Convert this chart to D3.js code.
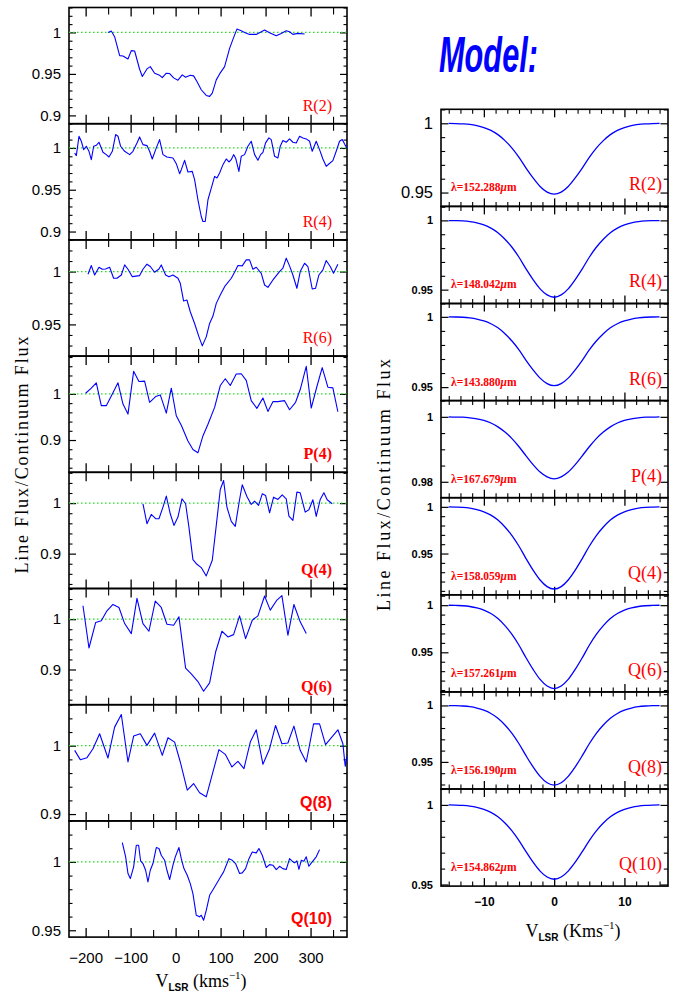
<!DOCTYPE html>
<html><head><meta charset="utf-8">
<script src="https://cdn.jsdelivr.net/npm/d3@7"></script>
<style>body{margin:0;background:#fff}svg{display:block}</style>
</head><body>
<svg id="chart" width="680" height="995"></svg>
<script>
// ---------------- DATA ----------------
// Observed spectra: [V_LSR (km/s), line flux / continuum flux]
const obsR2 = [[-150.4,1.0],[-143,1.0016],[-135.6,0.9948],[-124.4,0.972],[-117,0.9716],[-105.9,0.968],[-98.5,0.978],[-91.1,0.9776],[-80,0.9556],[-74,0.9468],[-63.7,0.956],[-56.3,0.9588],[-46.7,0.9508],[-37,0.9488],[-29.6,0.9456],[-20.7,0.9508],[-13.3,0.9504],[-4.4,0.9452],[5.2,0.9424],[14.8,0.9488],[22.2,0.946],[32.6,0.9484],[40,0.9476],[47.4,0.9408],[57,0.9309],[68.1,0.924],[75.6,0.9229],[81.5,0.9269],[90.4,0.9428],[97.8,0.95],[108.9,0.9588],[120,0.9808],[127.4,0.9916],[136.3,1.004],[145.9,1.002],[153.3,1.0],[164.4,0.9976],[179.3,0.9976],[197.8,1.0028],[208.9,0.9996],[223.7,0.996],[234.8,0.9988],[245.9,1.002],[253.3,1.0008],[260.7,0.9976],[271.9,0.9988],[286.7,0.998]];
const obsR4 = [[-224.4,0.994],[-220.7,0.9908],[-214.8,1.014],[-209.6,1.008],[-204.4,0.998],[-198.5,1.002],[-192.6,0.996],[-187.4,0.986],[-182.2,1.002],[-176.3,1.0032],[-170.4,1.0068],[-165.2,1.0],[-161.5,0.9948],[-154.1,0.992],[-148.1,0.9892],[-140.7,0.996],[-133.3,1.016],[-128.1,1.014],[-122.2,1.002],[-113.3,0.996],[-102.2,0.992],[-94.8,0.996],[-85.9,1.006],[-80,1.0132],[-72.6,1.004],[-63.7,1.0028],[-57.8,0.996],[-51.9,0.9868],[-44.4,0.998],[-35.6,1.01],[-28.1,0.992],[-19.3,0.9892],[-5.9,0.988],[1.5,0.9812],[8.9,0.9692],[12.6,0.974],[20,0.9852],[27.4,0.9712],[37,0.972],[42.2,0.962],[49.6,0.938],[57,0.918],[60.7,0.912],[65.9,0.912],[71.9,0.938],[79.3,0.952],[86.7,0.966],[91.9,0.964],[97.8,0.97],[105.2,0.98],[112.6,0.9868],[118.5,0.9832],[123.7,0.986],[128.9,0.992],[133.3,0.988],[140.7,0.972],[145.9,0.99],[153.3,0.992],[160.7,1.002],[168.1,1.008],[175.6,0.992],[183,0.9852],[188.9,0.992],[194.1,0.9948],[200,1.006],[207.4,1.012],[212.6,1.01],[220,0.99],[227.4,0.988],[232.6,1.002],[238.5,1.0088],[245.9,1.0068],[253.3,1.0108],[260.7,1.0068],[268.1,1.006],[275.6,1.014],[283,1.012],[290.4,1.0108],[297.8,1.008],[303.7,0.996],[312.6,1.008],[320,0.998],[327.4,0.9868],[334.8,0.978],[340.7,0.9808],[349.6,0.9848],[357,0.996],[364.4,1.008],[370.4,1.01],[376.3,1.004],[380.7,1.0]];
const obsR6 = [[-194.8,0.9975],[-187.4,1.0057],[-180,0.9968],[-170.4,1.0041],[-163,1.0022],[-155.6,1.0025],[-146.7,1.0041],[-137.8,0.9937],[-130.4,0.9937],[-120.7,0.9968],[-113.3,1.0063],[-105.9,1.0022],[-96.3,0.9952],[-80,0.9962],[-72.6,1.0022],[-63.7,1.007],[-56.3,1.0048],[-46.7,0.9994],[-37,1.0025],[-31.9,1.0063],[-22.2,0.9968],[-14.8,0.9952],[-5.9,0.9968],[5.2,0.9937],[10.4,0.9889],[17.8,0.9721],[25.2,0.9731],[32.6,0.962],[42.2,0.9509],[51.9,0.9382],[59.3,0.9297],[68.1,0.9382],[75.6,0.9509],[83,0.9579],[90.4,0.9699],[99.3,0.9778],[108.9,0.9857],[123.7,0.9937],[131.1,0.9994],[138.5,1.0057],[148.1,1.0054],[157,1.0111],[164.4,1.0111],[171.9,1.0022],[179.3,1.0041],[190.4,0.9984],[197.8,0.9873],[205.2,0.9851],[216.3,0.9921],[231.1,1.0],[238.5,1.0032],[245.9,1.0127],[253.3,1.0054],[260.7,0.9968],[269.6,0.9842],[277,1.0],[286.7,1.0079],[294.1,1.0048],[303.7,0.9835],[311.1,0.9842],[318.5,0.9968],[327.4,1.0016],[334.8,1.0105],[343.7,1.0048],[351.1,0.9984],[360.7,1.007]];
const obsP4 = [[-200,1.0015],[-187.4,1.0124],[-176.3,1.0241],[-165.2,0.9745],[-154.1,0.9745],[-140.7,1.0],[-128.1,1.0241],[-117,0.9781],[-105.9,0.9562],[-93.3,1.0489],[-81.5,1.027],[-68.9,1.0277],[-57.8,0.9818],[-44.4,0.9942],[-34.1,0.9978],[-20.7,0.9584],[-9.6,1.0124],[1.5,0.9526],[12.6,0.9321],[27.4,0.8978],[38.5,0.8796],[49.6,0.8723],[60.7,0.9088],[71.9,0.9343],[86.7,0.9708],[99.3,1.0182],[110.4,1.0328],[121.5,1.0182],[134.8,1.0431],[145.9,1.0438],[157,1.0292],[168.1,0.9854],[180.7,0.9686],[194.1,0.9912],[205.2,0.962],[216.3,0.9832],[227.4,0.9832],[242.2,0.9854],[253.3,0.9657],[266.7,0.9818],[277,1.0095],[290.4,1.0599],[301.5,0.9693],[314.1,1.0161],[325.9,1.0569],[338.5,1.0146],[349.6,1.0131],[360.7,0.9613]];
const obsQ4 = [[-72.6,0.9987],[-63.7,0.9592],[-54.1,0.9776],[-44.4,0.9691],[-37,0.9691],[-28.1,0.9921],[-20.7,1.0138],[-11.9,0.9789],[-3.7,0.9559],[5.2,0.9724],[14.1,1.0086],[22.2,0.9987],[29.6,0.9526],[38.5,0.8882],[47.4,0.8789],[57,0.8724],[68.1,0.8559],[81.5,0.8868],[90.4,0.9559],[99.3,1.027],[106.7,1.0447],[114.1,0.9921],[123.7,0.9638],[132.6,0.9539],[142.2,1.0072],[148.1,1.0362],[158.5,1.0132],[168.1,0.9974],[175.6,1.0039],[184.4,0.9954],[192.6,1.0184],[200,1.0151],[208.9,0.9809],[217.8,1.0118],[227.4,1.0072],[237,1.0164],[245.9,1.0086],[251.9,0.9743],[260.7,0.9658],[269.6,1.0217],[277,1.0204],[288.1,0.9822],[296.3,0.9868],[305.2,1.0066],[312.6,0.9737],[321.5,1.0072],[329.6,1.0204],[337,1.0066],[348.1,0.9987]];
const obsQ6 = [[-205.9,1.0267],[-192.6,0.9427],[-177.8,0.9933],[-165.2,0.9967],[-152.6,1.0167],[-139.3,1.0293],[-125.9,1.0233],[-113.3,0.9913],[-98.5,0.9713],[-85.9,1.0413],[-72.6,0.9913],[-59.3,0.976],[-45.2,1.036],[-31.9,1.0233],[-19.3,0.99],[-4.4,0.988],[7.4,1.0047],[22.2,0.9027],[34.8,0.8913],[49.6,0.876],[62.2,0.8567],[75.6,0.8733],[88.9,0.9347],[103,0.976],[116.3,0.9647],[128.9,0.9693],[142.2,1.0067],[155.6,0.9613],[170.4,0.998],[183,1.0067],[197.8,1.046],[210.4,1.018],[225.2,1.038],[236.3,1.0467],[249.6,0.968],[263,1.0293],[277,0.9947],[290.4,0.9713]];
const obsQ8 = [[-224.4,0.9932],[-211.9,0.9796],[-197,0.9825],[-183.7,0.9956],[-168.9,1.0175],[-150.4,0.982],[-135.6,1.0272],[-120.7,1.0456],[-105.9,0.9762],[-93.3,1.0141],[-78.5,1.0175],[-63.7,1.0005],[-46.7,1.0184],[-29.6,0.9859],[-17,1.0117],[-2.2,1.0053],[10.4,0.9762],[25.9,0.935],[40,0.9447],[53.3,0.9311],[68.1,0.9252],[83,0.9617],[96.3,0.9942],[110.4,0.9874],[125.2,0.9689],[138.5,0.9772],[151.9,0.9665],[166,1.0053],[179.3,1.0233],[194.1,0.9728],[208.9,0.9956],[222.2,1.0296],[236.3,1.0029],[249.6,1.0039],[263,1.0286],[277,0.9932],[290.4,0.9762],[306.7,1.032],[320,1.032],[333.3,1.0015],[360.7,1.0233],[371.9,1.0029],[377,0.9699],[380.7,0.9845]];
const obsQ10 = [[-118.5,1.0141],[-111.1,1.0037],[-105.9,0.9915],[-100.7,0.9878],[-93.3,0.9963],[-87.4,1.0122],[-82.2,1.0122],[-77.8,1.0007],[-72.6,0.9988],[-66.7,0.9939],[-61.5,0.9854],[-56.3,0.9939],[-50.4,0.9988],[-43,1.0105],[-37,1.0098],[-31.9,1.0049],[-24.4,1.0012],[-19.3,0.9939],[-13.3,0.9871],[-5.9,0.9976],[-0.7,1.0037],[7.4,1.0105],[12.6,1.0024],[18.5,0.9951],[25.9,0.9902],[32.6,0.9841],[38.5,0.9768],[45.9,0.961],[53.3,0.9598],[57,0.961],[62.2,0.9573],[68.1,0.9646],[75.6,0.9756],[86.7,0.9817],[97.8,0.9878],[106.7,0.9927],[112.6,0.9976],[118.5,1.0024],[125.9,1.0012],[133.3,0.9988],[142.2,0.9915],[148.1,0.992],[155.6,0.9951],[163,1.0024],[170.4,1.0073],[179.3,1.0066],[185.2,1.0098],[192.6,1.0049],[201.5,0.9959],[208.9,0.998],[216.3,0.9976],[223.7,0.9944],[231.1,0.9968],[238.5,0.9951],[245.9,0.9944],[253.3,1.0024],[259.3,1.0005],[264.4,0.9993],[269.6,1.0007],[274.1,0.9946],[279.3,1.0012],[285.2,1.0005],[290.4,1.0037],[296.3,0.9968],[303.7,1.0],[312.6,1.0037],[320,1.009]];

const lineLabels = ["R(2)","R(4)","R(6)","P(4)","Q(4)","Q(6)","Q(8)","Q(10)"];
const obsSeries = [obsR2, obsR4, obsR6, obsP4, obsQ4, obsQ6, obsQ8, obsQ10];
const obsXDomain = [-237, 381];
const obsXTicks = [-200, -100, 0, 100, 200, 300];
const obsYDomains = [[0.89,1.03],[0.89,1.029],[0.92,1.03],[0.83,1.082],[0.831,1.061],[0.83,1.061],[0.89,1.06],[0.945,1.03]];
const obsYLabelTicks = [[0.9,0.95,1],[0.9,0.95,1],[0.95,1],[0.9,1],[0.9,1],[0.9,1],[0.9,1],[0.95,1]];
const obsYMinorStep = [0.01,0.01,0.01,0.02,0.02,0.02,0.02,0.01];

// Model profiles: V_LSR from -15 to 15 km/s
const modelVel = [-15,-14,-13,-12,-11,-10,-9,-8,-7,-6,-5,-4,-3,-2,-1,0,1,2,3,4,5,6,7,8,9,10,11,12,13,14,15];
const modelR2 = [0.9999,0.9998,0.9996,0.9992,0.9983,0.9969,0.9949,0.9918,0.9875,0.9821,0.9754,0.9677,0.9606,0.9544,0.9503,0.9488,0.9503,0.9544,0.9606,0.9677,0.9754,0.9821,0.9875,0.9918,0.9949,0.9969,0.9983,0.9992,0.9996,0.9998,0.9999];
const modelR4 = [0.9999,0.9998,0.9996,0.9991,0.9982,0.9967,0.9944,0.9911,0.9864,0.9806,0.9734,0.9650,0.9573,0.9506,0.9462,0.9445,0.9462,0.9506,0.9573,0.9650,0.9734,0.9806,0.9864,0.9911,0.9944,0.9967,0.9982,0.9991,0.9996,0.9998,0.9999];
const modelR6 = [1.0,0.9999,0.9997,0.9992,0.9984,0.9971,0.9951,0.9922,0.9880,0.9828,0.9765,0.9691,0.9623,0.9564,0.9525,0.9510,0.9525,0.9564,0.9623,0.9691,0.9765,0.9828,0.9880,0.9922,0.9951,0.9971,0.9984,0.9992,0.9997,0.9999,1.0];
const modelP4 = [1.0,0.9999,0.9999,0.9997,0.9994,0.9989,0.9981,0.9969,0.9953,0.9933,0.9908,0.9880,0.9853,0.9830,0.9815,0.9809,0.9815,0.9830,0.9853,0.9880,0.9908,0.9933,0.9953,0.9969,0.9981,0.9989,0.9994,0.9997,0.9999,0.9999,1.0];
const modelQ4 = [0.9999,0.9997,0.9994,0.9986,0.9971,0.9947,0.9912,0.9859,0.9784,0.9692,0.9578,0.9446,0.9322,0.9217,0.9146,0.9120,0.9146,0.9217,0.9322,0.9446,0.9578,0.9692,0.9784,0.9859,0.9912,0.9947,0.9971,0.9986,0.9994,0.9997,0.9999];
const modelQ6 = [0.9999,0.9997,0.9994,0.9986,0.9971,0.9947,0.9911,0.9858,0.9783,0.9690,0.9575,0.9442,0.9319,0.9212,0.9142,0.9115,0.9142,0.9212,0.9319,0.9442,0.9575,0.9690,0.9783,0.9858,0.9911,0.9947,0.9971,0.9986,0.9994,0.9997,0.9999];
const modelQ8 = [0.9999,0.9998,0.9995,0.9989,0.9977,0.9958,0.9929,0.9887,0.9827,0.9753,0.9661,0.9555,0.9456,0.9372,0.9315,0.9294,0.9315,0.9372,0.9456,0.9555,0.9661,0.9753,0.9827,0.9887,0.9929,0.9958,0.9977,0.9989,0.9995,0.9998,0.9999];
const modelQ10 = [1.0,0.9999,0.9997,0.9993,0.9985,0.9972,0.9953,0.9925,0.9886,0.9837,0.9776,0.9706,0.9640,0.9584,0.9547,0.9533,0.9547,0.9584,0.9640,0.9706,0.9776,0.9837,0.9886,0.9925,0.9953,0.9972,0.9985,0.9993,0.9997,0.9999,1.0];
const modelSeries = [modelR2, modelR4, modelR6, modelP4, modelQ4, modelQ6, modelQ8, modelQ10];
const modelLambda = ["152.288","148.042","143.880","167.679","158.059","157.261","156.190","154.862"];
const modelXDomain = [-16.1, 16.2];
const modelXTicks = [-10, 0, 10];
const modelYDomains = [[0.94,1.0101],[0.94,1.0101],[0.9404,1.0095],[0.9751,1.005],[0.9058,1.0098],[0.908,1.011],[0.926,1.012],[0.949,1.01]];
const modelYLabelTicks = [[0.95,1],[0.95,1],[0.95,1],[0.98,1],[0.95,1],[0.95,1],[0.95,1],[0.95,1]];
const modelYMinorStep = [0.01,0.01,0.01,0.005,0.01,0.01,0.01,0.01];

// ---------------- DRAWING ----------------
const svg = d3.select("#chart");
const SANS = "'Liberation Sans', Arial, Helvetica, sans-serif";
const SERIF = "'Liberation Serif', 'Times New Roman', serif";
const BLUE = "#0000ff", RED = "#ff0000", GREEN = "#22dd22";

const LP = {x0: 69, x1: 347, top: 7.5, ph: 116.2};
const RP = {x0: 441, x1: 668, top: 109.3, ph: 97.1};

const xObs = d3.scaleLinear().domain(obsXDomain).range([LP.x0, LP.x1]);
const xMod = d3.scaleLinear().domain(modelXDomain).range([RP.x0, RP.x1]);

function stepTicks(domain, step) {
  const lo = Math.ceil(domain[0] / step - 1e-6), hi = Math.floor(domain[1] / step + 1e-6);
  return d3.range(lo, hi + 1).map(i => +(i * step).toFixed(6));
}
const fmtY = d => String(+(+d).toFixed(3));

function styleAxis(sel, sw) {
  sel.select(".domain").remove();
  sel.selectAll(".tick line").attr("stroke", "#000").attr("stroke-width", sw);
}

function panel(P, i, x, xDomain, yDomain, yMajor, yMinorStep, xMajor, xMinor, opt) {
  const top = P.top + i * P.ph;
  const g = svg.append("g").attr("transform", `translate(0,${top})`);
  const y = d3.scaleLinear().domain(yDomain).range([P.ph, 0]);
  const yMinor = stepTicks(yDomain, yMinorStep).filter(v => !yMajor.some(m => Math.abs(m - v) < 1e-6));

  // y-axis ticks left (labels) and right
  const yl = g.append("g").attr("transform", `translate(${P.x0},0)`)
    .call(d3.axisLeft(y).tickValues(yMajor).tickSize(-opt.yMaj).tickPadding(opt.yPad).tickFormat(fmtY));
  styleAxis(yl, 1.2);
  yl.selectAll("text").attr("font-family", opt.yFont).attr("font-size", opt.yFs)
    .attr("font-weight", opt.yFw || "normal").attr("fill", "#000");
  const ylm = g.append("g").attr("transform", `translate(${P.x0},0)`)
    .call(d3.axisLeft(y).tickValues(yMinor).tickSize(-opt.yMin).tickFormat(""));
  styleAxis(ylm, 1.1);
  const yr = g.append("g").attr("transform", `translate(${P.x1},0)`)
    .call(d3.axisRight(y).tickValues(yMajor).tickSize(-opt.yMaj).tickFormat(""));
  styleAxis(yr, 1.2);
  const yrm = g.append("g").attr("transform", `translate(${P.x1},0)`)
    .call(d3.axisRight(y).tickValues(yMinor).tickSize(-opt.yMin).tickFormat(""));
  styleAxis(yrm, 1.1);

  // x ticks top & bottom
  [["top", 0], ["bottom", P.ph]].forEach(([side, yy]) => {
    const mk = side === "top" ? d3.axisTop : d3.axisBottom;
    const a1 = g.append("g").attr("transform", `translate(0,${yy})`)
      .call(mk(x).tickValues(xMajor).tickSize(-opt.xMaj).tickPadding(opt.xPad)
        .tickFormat(side === "bottom" && opt.xLabels ? d3.format("") : ""));
    styleAxis(a1, 1.3);
    a1.selectAll("text").attr("font-family", opt.xFont).attr("font-size", opt.xFs)
      .attr("font-weight", opt.xFw || "normal").attr("fill", "#000");
    const a2 = g.append("g").attr("transform", `translate(0,${yy})`)
      .call(mk(x).tickValues(xMinor).tickSize(-opt.xMin).tickFormat(""));
    styleAxis(a2, 1.1);
  });

  // clip
  const cid = `clip-${opt.id}-${i}`;
  g.append("clipPath").attr("id", cid).append("rect")
    .attr("x", P.x0).attr("y", 0).attr("width", P.x1 - P.x0).attr("height", P.ph);

  // frame
  g.append("rect").attr("x", P.x0).attr("y", 0).attr("width", P.x1 - P.x0).attr("height", P.ph)
    .attr("fill", "none").attr("stroke", "#000").attr("stroke-width", 1.6);

  return {g, y, cid, top};
}

// ----- Left: observed spectra -----
const obsXMinor = stepTicks(obsXDomain, 50).filter(v => !obsXTicks.includes(v));
obsSeries.forEach((series, i) => {
  const last = i === obsSeries.length - 1;
  const {g, y, cid} = panel(LP, i, xObs, obsXDomain, obsYDomains[i], obsYLabelTicks[i], obsYMinorStep[i],
    obsXTicks, obsXMinor,
    {id: "obs", yMaj: 7, yMin: 3.5, yPad: 8, yFont: SANS, yFs: 15, xMaj: 9, xMin: 7, xPad: 15,
     xLabels: last, xFont: SANS, xFs: 15});
  // continuum line at 1
  g.append("line").attr("x1", LP.x0).attr("x2", LP.x1).attr("y1", y(1)).attr("y2", y(1))
    .attr("stroke", GREEN).attr("stroke-width", 1.3).attr("stroke-dasharray", "1.5,2.5");
  const line = d3.line().x(d => xObs(d[0])).y(d => y(d[1]));
  g.append("path").datum(series).attr("d", line).attr("clip-path", `url(#${cid})`)
    .attr("fill", "none").attr("stroke", BLUE).attr("stroke-width", 1.1).attr("stroke-linejoin", "round");
  g.append("text").attr("x", 332).attr("y", LP.ph - 13).attr("text-anchor", "end")
    .attr("font-family", i >= 6 ? SANS : SERIF).attr("font-size", 16)
    .attr("font-weight", i >= 3 ? "bold" : "normal").attr("fill", RED).text(lineLabels[i]);
});

// ----- Right: model -----
const modXMinor = d3.range(-9, 10).map(k => +(k * 10 / 6).toFixed(4)).filter(v => Math.abs(v % 10) > 1e-6)
  .filter(v => v >= modelXDomain[0] && v <= modelXDomain[1]);
modelSeries.forEach((series, i) => {
  const last = i === modelSeries.length - 1;
  const {g, y, cid} = panel(RP, i, xMod, modelXDomain, modelYDomains[i], modelYLabelTicks[i], modelYMinorStep[i],
    modelXTicks, modXMinor,
    {id: "mod", yMaj: 7.5, yMin: 4.2, yPad: 8, yFont: SANS, yFs: i === 0 ? 16.5 : 11, yFw: i === 0 ? "normal" : "bold",
     xMaj: 8, xMin: 4.5, xPad: 11, xLabels: last, xFont: SANS, xFs: 12, xFw: "bold"});
  const pts = modelVel.map((v, k) => [v, series[k]]);
  const line = d3.line().x(d => xMod(d[0])).y(d => y(d[1])).curve(d3.curveMonotoneX);
  g.append("path").datum(pts).attr("d", line).attr("clip-path", `url(#${cid})`)
    .attr("fill", "none").attr("stroke", BLUE).attr("stroke-width", 1.3);
  g.append("text").attr("x", 662).attr("y", RP.ph - 16).attr("text-anchor", "end")
    .attr("font-family", SERIF).attr("font-size", 18).attr("fill", RED).text(lineLabels[i]);
  const lt = g.append("text").attr("x", 451).attr("y", RP.ph - 15)
    .attr("font-family", SERIF).attr("font-size", 11.5).attr("font-weight", "bold").attr("fill", RED);
  lt.append("tspan").text("λ=" + modelLambda[i]);
  lt.append("tspan").attr("font-style", "italic").text("μ");
  lt.append("tspan").text("m");
});

// ----- Titles -----
svg.append("text").attr("x", 439).attr("y", 72).attr("textLength", 99).attr("lengthAdjust", "spacingAndGlyphs")
  .attr("font-family", SANS).attr("font-size", 50).attr("font-weight", "bold").attr("font-style", "italic")
  .attr("fill", BLUE).text("Model:");

function yTitle(cx, cy, len) {
  svg.append("text").attr("transform", `translate(${cx},${cy}) rotate(-90)`)
    .attr("text-anchor", "middle").attr("dominant-baseline", "central")
    .attr("font-family", SERIF).attr("font-size", 18).attr("textLength", len).attr("lengthAdjust", "spacing")
    .attr("fill", "#000").text("Line Flux/Continuum Flux");
}
yTitle(22, 455, 237);
yTitle(384, 485, 252);

function xTitle(cx, by, unit) {
  const t = svg.append("text").attr("x", cx).attr("y", by).attr("text-anchor", "middle")
    .attr("font-family", SERIF).attr("font-size", 18).attr("fill", "#000");
  t.append("tspan").text("V");
  t.append("tspan").attr("font-size", 10).attr("font-family", SANS).attr("font-weight", "bold").attr("dy", 4).text("LSR");
  t.append("tspan").attr("dy", -4).text(" (" + unit);
  t.append("tspan").attr("font-size", 11).attr("dy", -8).text("−1");
  t.append("tspan").attr("dy", 8).text(")");
}
xTitle(201, 987, "kms");
xTitle(573, 937, "Kms");
</script>
</body></html>
